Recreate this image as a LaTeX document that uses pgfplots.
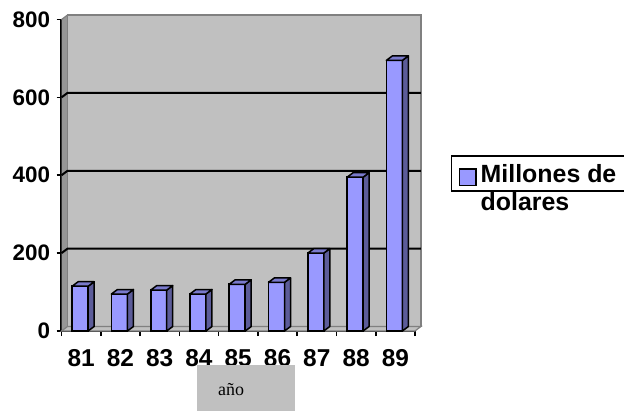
\documentclass[border=0pt]{standalone}
\usepackage{pgfplots}
\pgfplotsset{compat=1.18}
\usepackage{pgfplotstable}
\usepackage{fontspec}
\setmainfont{Liberation Sans}
\newfontfamily\serifface{Liberation Serif}

\definecolor{wallgray}{RGB}{192,192,192}
\definecolor{walledge}{RGB}{128,128,128}
\definecolor{sidewall}{RGB}{150,150,150}
\definecolor{barfront}{RGB}{153,153,255}
\definecolor{barside}{RGB}{92,92,153}
\definecolor{bartop}{RGB}{122,122,204}

% Millones de dolares por año
\pgfplotstableread{
pos year value
1 81 115
2 82 95
3 83 105
4 84 95
5 85 120
6 86 125
7 87 200
8 88 395
9 89 695
}\ventas

% depth of the 3D bars and of the back wall
\def\dx{6}
\def\dy{4.5}
% bp per data unit on the y axis (311.5bp / 800)
\def\yunit{0.389375}

\begin{document}
\begin{tikzpicture}
\path[use as bounding box] (0,0) rectangle (624bp,411bp);
\clip (0,0) rectangle (624bp,411bp);
\begin{axis}[
  at={(61.5bp,80bp)}, anchor=south west,
  scale only axis, width=353.5bp, height=311.5bp,
  xmin=0.5, xmax=9.5, ymin=0, ymax=800,
  clip=false,
  axis lines*=left,
  axis line style={black, line width=2.4bp},
  xtick={1,...,9},
  xticklabels={81,82,83,84,85,86,87,88,89},
  minor xtick={0.5,1.5,...,9.5},
  ytick={0,200,...,800},
  tick align=outside,
  major tick length=5bp, minor tick length=5bp,
  every major x tick/.append style={draw=none},
  every minor x tick/.append style={black, line width=1.6bp},
  every major y tick/.append style={black, line width=1.6bp},
  /pgf/number format/assume math mode=true,
  xticklabel style={yshift=-10bp, font=\bfseries\fontsize{24.5}{24.5}\selectfont},
  yticklabel style={xshift=-3bp, font=\bfseries\fontsize{22.5}{22.5}\selectfont},
  xlabel={\hspace*{21bp}año},
  xlabel style={at={(axis description cs:0.3833,-0.1091)}, anchor=north west,
    fill=wallgray, inner sep=0pt, text width=98bp, minimum height=48bp,
    align=left, font=\serifface\fontsize{18}{20}\selectfont},
  legend style={at={(axis description cs:1.1018,0.565)}, anchor=north west,
    draw=black, line width=1.5bp, fill=white, inner xsep=7bp, inner ysep=5bp,
    font=\bfseries\fontsize{25}{28}\selectfont},
  legend cell align=left,
  legend image code/.code={%
    \draw[fill=barfront, draw=black, line width=1.5bp] (0bp,-12bp) rectangle (16.5bp,4.5bp);},
]
% back wall, left wall and floor
\fill[wallgray] ([shift={(\dx bp,\dy bp)}]axis cs:0.5,0) rectangle ([shift={(\dx bp,\dy bp)}]axis cs:9.5,800);
\fill[sidewall] (axis cs:0.5,0) -- ([shift={(\dx bp,\dy bp)}]axis cs:0.5,0)
  -- ([shift={(\dx bp,\dy bp)}]axis cs:0.5,800) -- (axis cs:0.5,800) -- cycle;
\filldraw[fill=wallgray, draw=walledge, line width=1.2bp] (axis cs:0.5,0) -- (axis cs:9.5,0)
  -- ([shift={(\dx bp,\dy bp)}]axis cs:9.5,0) -- ([shift={(\dx bp,\dy bp)}]axis cs:0.5,0) -- cycle;
\draw[walledge, line width=1.5bp] ([shift={(\dx bp,\dy bp)}]axis cs:0.5,0) rectangle ([shift={(\dx bp,\dy bp)}]axis cs:9.5,800);
\draw[walledge, line width=1.2bp] (axis cs:0.5,800) -- ([shift={(\dx bp,\dy bp)}]axis cs:0.5,800);
% gridlines on the walls
\pgfplotsinvokeforeach{200,400,600}{
  \draw[black, line width=2bp] (axis cs:0.5,#1) -- ([shift={(\dx bp,\dy bp)}]axis cs:0.5,#1)
    -- ([shift={(\dx bp,\dy bp)}]axis cs:9.5,#1);
}
% top and side faces of the columns
\addplot[forget plot, scatter, only marks, mark=*, mark size=0.01pt,
  mark options={draw=none, fill=none},
  visualization depends on={\thisrow{value} \as \barval},
  scatter/@pre marker code/.code={%
    \pgfmathsetmacro\h{\barval*\yunit}%
    \pgfmathsetmacro\hb{\dy-\h}%
    \filldraw[fill=barside, draw=black, line width=1.5bp, line join=round]
      (7bp,0bp) -- (13bp,\dy bp) -- (13bp,\hb bp) -- (7bp,-\h bp) -- cycle;
    \filldraw[fill=bartop, draw=black, line width=1.5bp, line join=round]
      (-9bp,0bp) -- (7bp,0bp) -- (13bp,\dy bp) -- (-3bp,\dy bp) -- cycle;
  },
  scatter/@post marker code/.code={},
] table[x=pos, y=value] {\ventas};
% front faces of the columns
\addplot[ybar, bar width=16bp, bar shift=-1bp, fill=barfront, draw=black,
  line width=1.7bp] table[x=pos, y=value] {\ventas};
\addlegendentry{\begin{tabular}[t]{@{\hspace{2bp}}p{150bp}@{}}Millones de\\dolares\end{tabular}}
\end{axis}
\end{tikzpicture}
\end{document}
